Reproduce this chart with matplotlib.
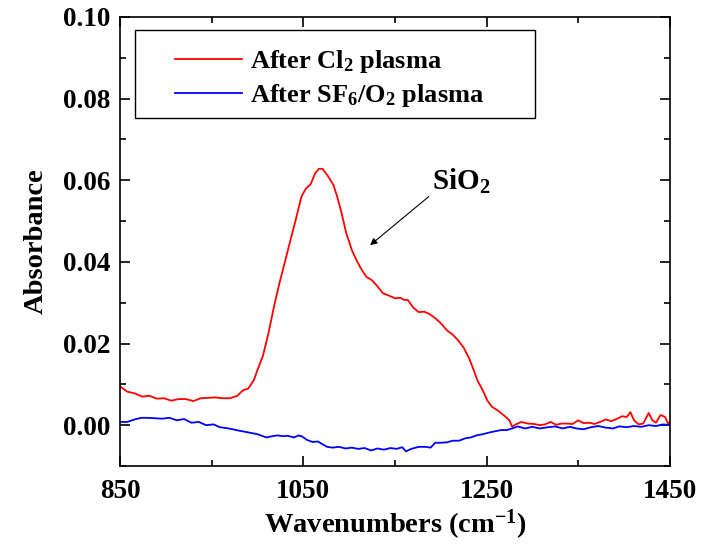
import matplotlib.pyplot as plt
from matplotlib.patches import Rectangle
from matplotlib.ticker import MultipleLocator, FormatStrFormatter

plt.rcParams["font.family"] = ["Liberation Serif", "DejaVu Serif"]
plt.rcParams["font.weight"] = "bold"
plt.rcParams["mathtext.fontset"] = "custom"
plt.rcParams["mathtext.rm"] = "Liberation Serif:bold"
plt.rcParams["mathtext.it"] = "Liberation Serif:bold"
plt.rcParams["mathtext.bf"] = "Liberation Serif:bold"

# Spektrum noktaları
wn_cl = [850, 858, 866, 874, 882, 890, 898, 906, 914, 922, 930, 938, 946, 954, 962, 970,
         978, 984, 990, 996, 1000, 1006, 1012, 1018, 1024, 1030, 1036, 1042, 1048, 1053,
         1058, 1063, 1067, 1071, 1077, 1083, 1087, 1091, 1097, 1103, 1109, 1114, 1119,
         1125, 1131, 1137, 1143, 1150, 1156, 1160, 1164, 1170, 1176, 1182, 1188, 1194,
         1200, 1207, 1213, 1219, 1225, 1231, 1236, 1240, 1246, 1251, 1256, 1263, 1270,
         1275, 1278, 1282, 1288, 1295, 1302, 1308, 1314, 1320, 1326, 1332, 1338, 1344,
         1350, 1356, 1362, 1368, 1374, 1380, 1386, 1392, 1398, 1403, 1407, 1411, 1416,
         1421, 1427, 1431, 1435, 1440, 1445, 1448, 1450]
abs_cl = [0.0095, 0.0082, 0.0078, 0.0070, 0.0072, 0.0065, 0.0066, 0.0060, 0.0064, 0.0064,
          0.0059, 0.0066, 0.0067, 0.0068, 0.0066, 0.0066, 0.0072, 0.0085, 0.0090, 0.0110,
          0.0135, 0.0170, 0.0225, 0.0290, 0.0348, 0.0400, 0.0453, 0.0505, 0.0560, 0.0580,
          0.0590, 0.0617, 0.0628, 0.0628, 0.0610, 0.0588, 0.0560, 0.0527, 0.0470, 0.0429,
          0.0400, 0.0380, 0.0363, 0.0355, 0.0340, 0.0323, 0.0318, 0.0311, 0.0312, 0.0307,
          0.0307, 0.0288, 0.0277, 0.0278, 0.0272, 0.0262, 0.0250, 0.0232, 0.0222, 0.0208,
          0.0190, 0.0164, 0.0135, 0.0110, 0.0085, 0.0060, 0.0045, 0.0035, 0.0022, 0.0012,
          -0.0004, 0.0002, 0.0008, 0.0004, 0.0003, 0.0000, 0.0002, 0.0008, 0.0001, 0.0004,
          0.0004, 0.0003, 0.0012, 0.0005, 0.0006, 0.0003, 0.0008, 0.0014, 0.0010, 0.0015,
          0.0022, 0.0020, 0.0032, 0.0012, 0.0002, 0.0004, 0.0030, 0.0012, 0.0006, 0.0025,
          0.0020, 0.0004, 0.0008]

wn_sf = [850, 858, 866, 873, 880, 888, 896, 904, 912, 920, 928, 936, 944, 952, 959, 966,
         973, 979, 986, 993, 1000, 1006, 1010, 1016, 1022, 1028, 1033, 1040, 1045, 1049,
         1054, 1060, 1066, 1072, 1076, 1082, 1089, 1096, 1103, 1110, 1117, 1124, 1131,
         1138, 1145, 1152, 1158, 1162, 1168, 1176, 1183, 1189, 1194, 1200, 1207, 1213,
         1220, 1227, 1233, 1239, 1246, 1253, 1259, 1266, 1272, 1278, 1284, 1292, 1300,
         1308, 1317, 1325, 1333, 1341, 1348, 1356, 1364, 1372, 1380, 1388, 1395, 1403,
         1411, 1419, 1427, 1435, 1443, 1450]
abs_sf = [0.0008, 0.0008, 0.0014, 0.0018, 0.0018, 0.0017, 0.0016, 0.0018, 0.0012, 0.0015,
          0.0006, 0.0008, 0.0000, 0.0002, -0.0005, -0.0007, -0.0010, -0.0013, -0.0016, -0.0019,
          -0.0022, -0.0027, -0.0030, -0.0027, -0.0025, -0.0027, -0.0026, -0.0030, -0.0025,
          -0.0028, -0.0036, -0.0041, -0.0040, -0.0048, -0.0053, -0.0055, -0.0053, -0.0057,
          -0.0055, -0.0058, -0.0056, -0.0062, -0.0057, -0.0060, -0.0056, -0.0058, -0.0054,
          -0.0064, -0.0058, -0.0053, -0.0053, -0.0055, -0.0043, -0.0043, -0.0042, -0.0038,
          -0.0038, -0.0032, -0.0030, -0.0025, -0.0022, -0.0018, -0.0015, -0.0012, -0.0012,
          -0.0008, -0.0003, -0.0008, -0.0004, -0.0008, -0.0005, -0.0003, -0.0008, -0.0004,
          -0.0008, -0.0010, -0.0005, -0.0002, -0.0006, -0.0008, -0.0003, -0.0005, -0.0002,
          -0.0004, 0.0000, -0.0002, 0.0002, 0.0000]

x_major = [850, 1050, 1250, 1450]
x_minor = [950, 1150, 1350]

fig = plt.figure(figsize=(7.08, 5.46), dpi=100)
ax = fig.add_axes([0.1695, 0.1465, 0.7765, 0.8225])

ax.plot(wn_cl, abs_cl, color="#ff0000", lw=1.3, label=r"After Cl$_2$ plasma")
ax.plot(wn_sf, abs_sf, color="#0000ff", lw=1.3, label=r"After SF$_6$/O$_2$ plasma")

# SiO2 etiketi ve ok
ax.text(1190, 0.0598, r"SiO$_2$", fontsize=21, fontweight="bold", va="center", ha="left")
ax.annotate("", xy=(1123, 0.0441), xytext=(1187, 0.0560),
            arrowprops=dict(arrowstyle="-|>", color="black", lw=0.8,
                            shrinkA=0, shrinkB=0, mutation_scale=10))

ax.set_xlim(850, 1450)
ax.set_ylim(-0.01, 0.10)
ax.set_xticks(x_major)
ax.set_xticks(x_minor, minor=True)
ax.yaxis.set_major_locator(MultipleLocator(0.02))
ax.yaxis.set_minor_locator(MultipleLocator(0.01))
ax.yaxis.set_major_formatter(FormatStrFormatter("%.2f"))
ax.tick_params(which="both", direction="in", top=True, right=True, width=1.2)
ax.tick_params(which="major", length=7, labelsize=19.5, pad=7)
ax.tick_params(axis="x", which="major", pad=9)
ax.tick_params(which="minor", length=4)
for s in ax.spines.values():
    s.set_linewidth(1.2)

ax.set_xlabel(r"Wavenumbers (cm$^{-1}$)", fontsize=20.5, fontweight="bold", labelpad=3)
ax.set_ylabel("Absorbance", fontsize=20.5, fontweight="bold", labelpad=10)

# lejant kutusu ayrı çiziliyor
ax.add_patch(Rectangle((0.027, 0.775), 0.728, 0.196, transform=ax.transAxes,
                       fill=False, edgecolor="black", lw=1.0, zorder=4))
leg = ax.legend(loc="upper left", bbox_to_anchor=(0.1, 0.93), frameon=False,
                handlelength=2.55, borderpad=0, labelspacing=0.25, borderaxespad=0,
                handletextpad=0.3, prop={"weight": "bold", "size": 19})

fig.savefig("out.png", dpi=100)
